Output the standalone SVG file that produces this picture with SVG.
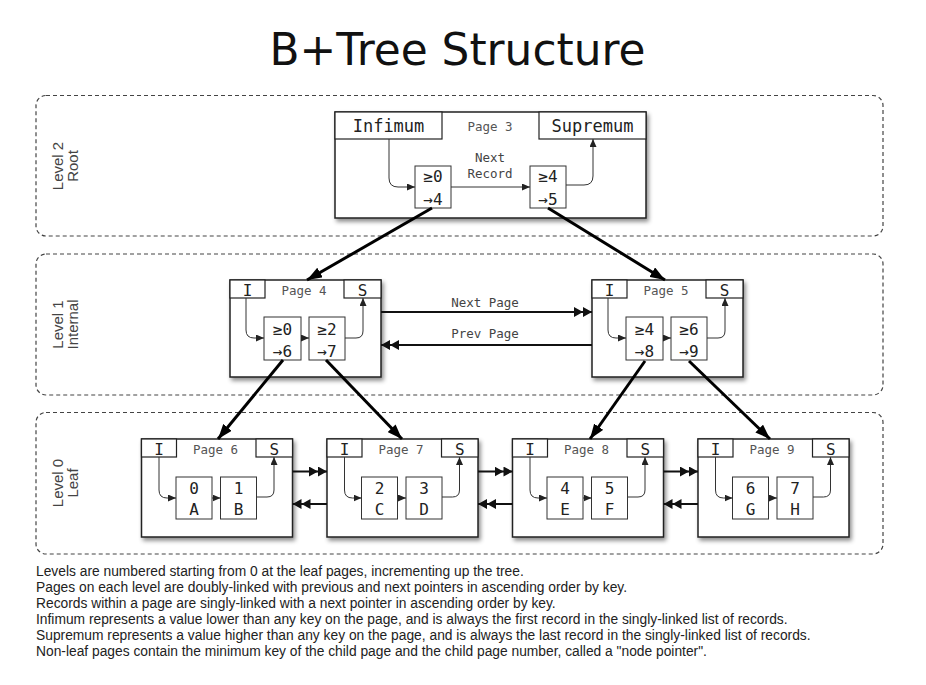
<svg xmlns="http://www.w3.org/2000/svg" width="926" height="685" viewBox="0 0 926 685">
<style>
.bg{fill:#ffffff}
.lvl{fill:none;stroke:#444;stroke-width:1.2;stroke-dasharray:4 3}
.lvlt{font-family:"Liberation Sans",Arial,sans-serif;font-size:15px;fill:#444;text-anchor:middle}
.page{fill:#fff;stroke:#222;stroke-width:1.5;filter:url(#sh)}
.hdr{fill:#fff;stroke:#222;stroke-width:1.2}
.rec{fill:#fff;stroke:#333;stroke-width:1}
.mono{font-family:"DejaVu Sans Mono","Liberation Mono",monospace;fill:#222;text-anchor:middle}
.big{font-size:17px}
.is{font-size:16px}
.pg{font-size:12.5px;fill:#555}
.rt{font-size:16px}
.lt{font-size:16px}
.lbl{font-size:12.5px;fill:#444}
.thin{fill:none;stroke:#333;stroke-width:1;marker-end:url(#sa)}
.tree{fill:none;stroke:#000;stroke-width:3;marker-end:url(#ta)}
.link{fill:none;stroke:#111;stroke-width:2.2;marker-end:url(#da)}
.note{font-family:"Liberation Sans",Arial,sans-serif;font-size:13.8px;fill:#222}
.title{font-family:"DejaVu Sans","Liberation Sans",sans-serif;font-size:44px;fill:#111;text-anchor:middle}
</style>
<defs>
<filter id="sh" x="-10%" y="-10%" width="125%" height="130%">
<feDropShadow dx="2" dy="3" stdDeviation="2" flood-color="#000" flood-opacity="0.45"/>
</filter>
<marker id="sa" markerUnits="userSpaceOnUse" markerWidth="8" markerHeight="7" refX="8" refY="3.5" orient="auto">
<path d="M0,0 L8,3.5 L0,7 z" fill="#222"/>
</marker>
<marker id="ta" markerUnits="userSpaceOnUse" markerWidth="15" markerHeight="11" refX="15" refY="5.5" orient="auto">
<path d="M0,0 L15,5.5 L0,11 z" fill="#000"/>
</marker>
<marker id="da" markerUnits="userSpaceOnUse" markerWidth="18" markerHeight="10" refX="18" refY="5" orient="auto">
<path d="M0,0 L9,5 L0,10 z M9,0 L18,5 L9,10 z" fill="#111"/>
</marker>
</defs>
<rect class="bg" x="0" y="0" width="926" height="685"/>
<text class="title" x="457.5" y="65" textLength="376" lengthAdjust="spacingAndGlyphs">B+Tree Structure</text>

<g id="level2">
<rect class="lvl" x="36" y="95.5" width="847" height="140.5" rx="10"/>
<text class="lvlt" transform="translate(63,166) rotate(-90)">Level 2</text>
<text class="lvlt" transform="translate(78,166) rotate(-90)">Root</text>
</g>
<g id="level1">
<rect class="lvl" x="36" y="254" width="847" height="141" rx="10"/>
<text class="lvlt" transform="translate(63,324.5) rotate(-90)">Level 1</text>
<text class="lvlt" transform="translate(78,324.5) rotate(-90)">Internal</text>
</g>
<g id="level0">
<rect class="lvl" x="36" y="412.5" width="847" height="141.5" rx="10"/>
<text class="lvlt" transform="translate(63,483) rotate(-90)">Level 0</text>
<text class="lvlt" transform="translate(78,483) rotate(-90)">Leaf</text>
</g>

<g id="page3">
<rect class="page" x="335" y="112" width="311" height="106"/>
<rect class="hdr" x="335" y="112" width="107" height="27"/>
<rect class="hdr" x="539" y="112" width="107" height="27"/>
<text class="mono big" x="388.5" y="132">Infimum</text>
<text class="mono big" x="592.5" y="132">Supremum</text>
<text class="mono pg" x="490" y="131">Page 3</text>
<rect class="rec" x="415" y="166" width="36" height="42"/>
<rect class="rec" x="530" y="166" width="36" height="42"/>
<text class="mono rt" x="433" y="182">≥0</text>
<text class="mono rt" x="433" y="205">→4</text>
<text class="mono rt" x="548" y="182">≥4</text>
<text class="mono rt" x="548" y="205">→5</text>
<path class="thin" d="M389,139 L389,178 Q389,187 398,187 L415,187"/>
<path class="thin" d="M451,187 L530,187"/>
<path class="thin" d="M566,185 L584,185 Q593,185 593,176 L593,139"/>
<text class="mono lbl" x="490" y="162">Next</text>
<text class="mono lbl" x="490" y="178">Record</text>
</g>

<g id="page4">
<rect class="page" x="230" y="280" width="151" height="97"/>
<rect class="hdr" x="230" y="280" width="35" height="18"/>
<rect class="hdr" x="344" y="280" width="37" height="18"/>
<text class="mono is" x="247.5" y="296">I</text>
<text class="mono is" x="362.5" y="296">S</text>
<text class="mono pg" x="304" y="295">Page 4</text>
<rect class="rec" x="264" y="317" width="37" height="43"/>
<rect class="rec" x="309" y="317" width="36" height="43"/>
<text class="mono rt" x="282.5" y="335">≥0</text>
<text class="mono rt" x="282.5" y="357">→6</text>
<text class="mono rt" x="327" y="335">≥2</text>
<text class="mono rt" x="327" y="357">→7</text>
<path class="thin" d="M246,298 L246,330 Q246,338 254,338 L264,338"/>
<path class="thin" d="M301,338 L309,338"/>
<path class="thin" d="M345,338 L356,338 Q363,338 363,331 L363,298"/>
</g>

<g id="page5">
<rect class="page" x="592" y="280" width="151" height="97"/>
<rect class="hdr" x="592" y="280" width="35" height="18"/>
<rect class="hdr" x="706" y="280" width="37" height="18"/>
<text class="mono is" x="609.5" y="296">I</text>
<text class="mono is" x="724.5" y="296">S</text>
<text class="mono pg" x="666" y="295">Page 5</text>
<rect class="rec" x="626" y="317" width="37" height="43"/>
<rect class="rec" x="671" y="317" width="36" height="43"/>
<text class="mono rt" x="644.5" y="335">≥4</text>
<text class="mono rt" x="644.5" y="357">→8</text>
<text class="mono rt" x="689" y="335">≥6</text>
<text class="mono rt" x="689" y="357">→9</text>
<path class="thin" d="M608,298 L608,330 Q608,338 616,338 L626,338"/>
<path class="thin" d="M663,338 L671,338"/>
<path class="thin" d="M707,338 L718,338 Q725,338 725,331 L725,298"/>
</g>

<g id="page6">
<rect class="page" x="141.5" y="439" width="151" height="98"/>
<rect class="hdr" x="141.5" y="439" width="35" height="18"/>
<rect class="hdr" x="256" y="439" width="36.5" height="18"/>
<text class="mono is" x="159" y="455">I</text>
<text class="mono is" x="274.25" y="455">S</text>
<text class="mono pg" x="215.5" y="454">Page 6</text>
<rect class="rec" x="176" y="477" width="36" height="42"/>
<rect class="rec" x="220.5" y="477" width="36" height="42"/>
<text class="mono lt" x="194" y="494">0</text>
<text class="mono lt" x="194" y="515">A</text>
<text class="mono lt" x="238.5" y="494">1</text>
<text class="mono lt" x="238.5" y="515">B</text>
<path class="thin" d="M159,457 L159,490 Q159,498 167,498 L176,498"/>
<path class="thin" d="M212,498 L220.5,498"/>
<path class="thin" d="M256.5,497 L267,497 Q274,497 274,490 L274,457"/>
</g>

<g id="page7">
<rect class="page" x="327" y="439" width="151" height="98"/>
<rect class="hdr" x="327" y="439" width="35" height="18"/>
<rect class="hdr" x="441.5" y="439" width="36.5" height="18"/>
<text class="mono is" x="344.5" y="455">I</text>
<text class="mono is" x="459.75" y="455">S</text>
<text class="mono pg" x="401" y="454">Page 7</text>
<rect class="rec" x="361.5" y="477" width="36" height="42"/>
<rect class="rec" x="406" y="477" width="36" height="42"/>
<text class="mono lt" x="379.5" y="494">2</text>
<text class="mono lt" x="379.5" y="515">C</text>
<text class="mono lt" x="424" y="494">3</text>
<text class="mono lt" x="424" y="515">D</text>
<path class="thin" d="M344.5,457 L344.5,490 Q344.5,498 352.5,498 L361.5,498"/>
<path class="thin" d="M397.5,498 L406,498"/>
<path class="thin" d="M442,497 L452.5,497 Q459.5,497 459.5,490 L459.5,457"/>
</g>

<g id="page8">
<rect class="page" x="512.5" y="439" width="151" height="98"/>
<rect class="hdr" x="512.5" y="439" width="35" height="18"/>
<rect class="hdr" x="627" y="439" width="36.5" height="18"/>
<text class="mono is" x="530" y="455">I</text>
<text class="mono is" x="645.25" y="455">S</text>
<text class="mono pg" x="586.5" y="454">Page 8</text>
<rect class="rec" x="547" y="477" width="36" height="42"/>
<rect class="rec" x="591.5" y="477" width="36" height="42"/>
<text class="mono lt" x="565" y="494">4</text>
<text class="mono lt" x="565" y="515">E</text>
<text class="mono lt" x="609.5" y="494">5</text>
<text class="mono lt" x="609.5" y="515">F</text>
<path class="thin" d="M530,457 L530,490 Q530,498 538,498 L547,498"/>
<path class="thin" d="M583,498 L591.5,498"/>
<path class="thin" d="M627.5,497 L638,497 Q645,497 645,490 L645,457"/>
</g>

<g id="page9">
<rect class="page" x="698" y="439" width="151" height="98"/>
<rect class="hdr" x="698" y="439" width="35" height="18"/>
<rect class="hdr" x="812.5" y="439" width="36.5" height="18"/>
<text class="mono is" x="715.5" y="455">I</text>
<text class="mono is" x="830.75" y="455">S</text>
<text class="mono pg" x="772" y="454">Page 9</text>
<rect class="rec" x="732.5" y="477" width="36" height="42"/>
<rect class="rec" x="777" y="477" width="36" height="42"/>
<text class="mono lt" x="750.5" y="494">6</text>
<text class="mono lt" x="750.5" y="515">G</text>
<text class="mono lt" x="795" y="494">7</text>
<text class="mono lt" x="795" y="515">H</text>
<path class="thin" d="M715.5,457 L715.5,490 Q715.5,498 723.5,498 L732.5,498"/>
<path class="thin" d="M768.5,498 L777,498"/>
<path class="thin" d="M813,497 L823.5,497 Q830.5,497 830.5,490 L830.5,457"/>
</g>

<g id="connectors">
<path class="tree" d="M432,208 L307,280"/>
<path class="tree" d="M548,208 L665,280"/>
<path class="tree" d="M283,360 L218,439"/>
<path class="tree" d="M326,360 L402,439"/>
<path class="tree" d="M645,361 L590,439"/>
<path class="tree" d="M689,361 L770,439"/>
<path class="link" d="M381,312 L592,312"/>
<path class="link" d="M592,345 L381,345"/>
<text class="mono lbl" x="485" y="307">Next Page</text>
<text class="mono lbl" x="485" y="338">Prev Page</text>
<path class="link" d="M292.5,471.5 L327,471.5"/>
<path class="link" d="M327,504 L292.5,504"/>
<path class="link" d="M478,471.5 L512.5,471.5"/>
<path class="link" d="M512.5,504 L478,504"/>
<path class="link" d="M663.5,471.5 L698,471.5"/>
<path class="link" d="M698,504 L663.5,504"/>
</g>

<g id="notes">
<text class="note" x="36" y="576">Levels are numbered starting from 0 at the leaf pages, incrementing up the tree.</text>
<text class="note" x="36" y="592">Pages on each level are doubly-linked with previous and next pointers in ascending order by key.</text>
<text class="note" x="36" y="608">Records within a page are singly-linked with a next pointer in ascending order by key.</text>
<text class="note" x="36" y="624">Infimum represents a value lower than any key on the page, and is always the first record in the singly-linked list of records.</text>
<text class="note" x="36" y="640">Supremum represents a value higher than any key on the page, and is always the last record in the singly-linked list of records.</text>
<text class="note" x="36" y="656">Non-leaf pages contain the minimum key of the child page and the child page number, called a "node pointer".</text>
</g>
</svg>
